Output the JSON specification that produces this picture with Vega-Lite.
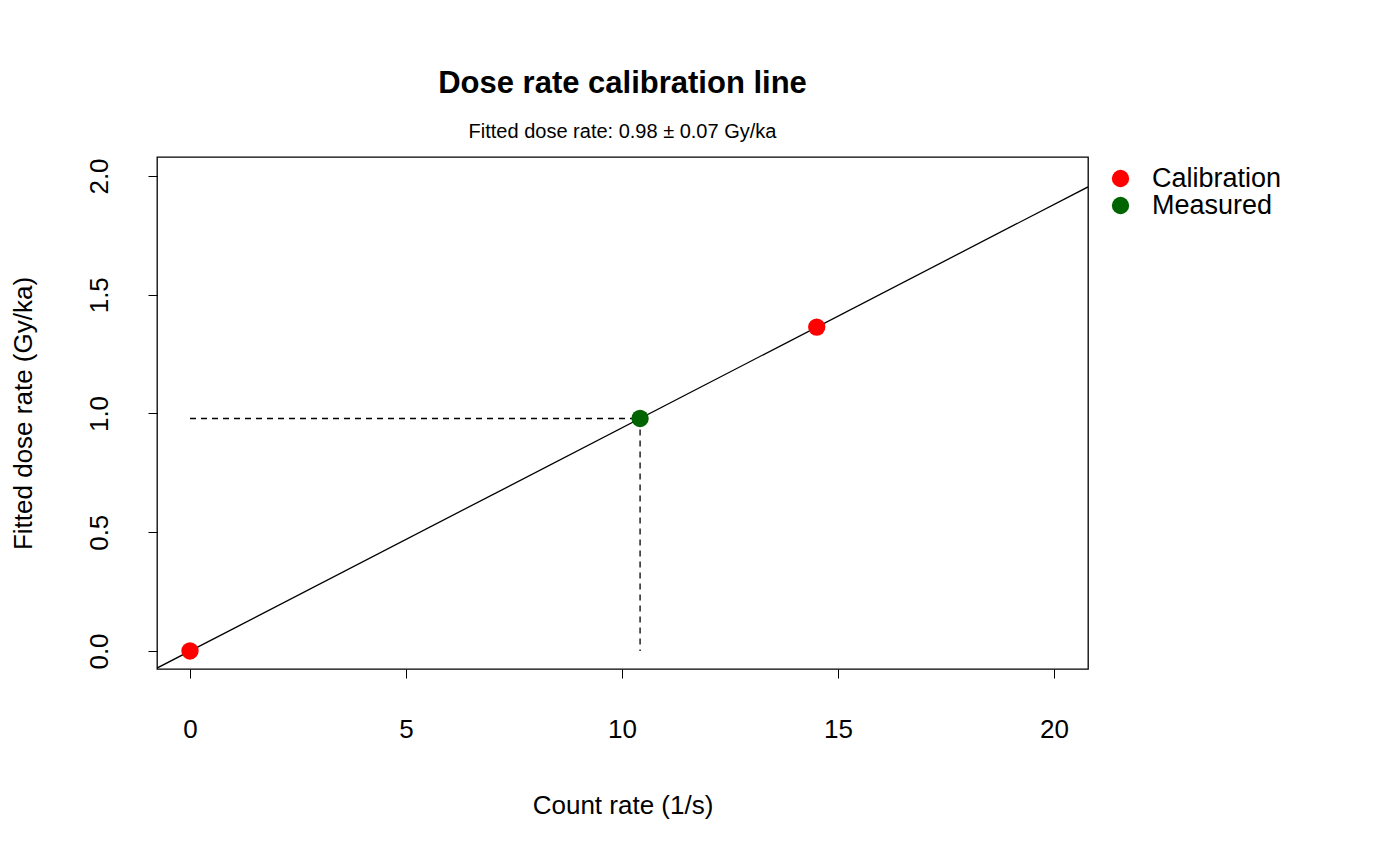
{
  "$schema": "https://vega.github.io/schema/vega-lite/v6.json",
  "autosize": "none",
  "width": 931,
  "height": 512,
  "padding": {"left": 157, "top": 157, "right": 312, "bottom": 197},
  "background": "white",
  "title": {
    "text": "Dose rate calibration line",
    "subtitle": "Fitted dose rate: 0.98 ± 0.07 Gy/ka",
    "font": "Liberation Sans",
    "fontSize": 31,
    "fontWeight": "bold",
    "subtitleFont": "Liberation Sans",
    "subtitleFontSize": 20,
    "subtitlePadding": 22,
    "offset": 14,
    "anchor": "middle",
    "color": "black",
    "subtitleColor": "black"
  },
  "config": {
    "view": {"stroke": "black", "strokeWidth": 1.3},
    "axis": {
      "domain": false,
      "grid": false,
      "tickColor": "black",
      "tickSize": 9,
      "labelFont": "Liberation Sans",
      "labelFontSize": 26,
      "labelColor": "black",
      "titleFont": "Liberation Sans",
      "titleFontSize": 26,
      "titleFontWeight": "normal",
      "titleColor": "black"
    }
  },
  "datasets": {
    "pts": [
      {"x": 0, "y": 0, "series": "Calibration"},
      {"x": 14.51, "y": 1.364, "series": "Calibration"},
      {"x": 10.42, "y": 0.979, "series": "Measured"}
    ],
    "fit": [
      {"x": -0.764, "y": -0.072},
      {"x": 20.79, "y": 1.954}
    ],
    "hdash": [
      {"x": 0, "y": 0.979},
      {"x": 10.42, "y": 0.979}
    ],
    "vdash": [
      {"x": 10.42, "y": 0.979},
      {"x": 10.42, "y": 0}
    ]
  },
  "layer": [
    {
      "data": {"name": "fit"},
      "mark": {"type": "line", "color": "black", "strokeWidth": 1.3, "clip": true},
      "encoding": {
        "x": {"field": "x", "type": "quantitative", "scale": {"domain": [-0.764, 20.79], "nice": false, "zero": false},
          "axis": {"values": [0, 5, 10, 15, 20], "title": "Count rate (1/s)", "labelPadding": 38, "titlePadding": 50}},
        "y": {"field": "y", "type": "quantitative", "scale": {"domain": [-0.0758, 2.08], "nice": false, "zero": false},
          "axis": {"values": [0, 0.5, 1, 1.5, 2], "format": ".1f", "title": "Fitted dose rate (Gy/ka)", "labelAngle": 270, "labelAlign": "center", "labelBaseline": "bottom", "labelPadding": 36, "titlePadding": 50}}
      }
    },
    {
      "data": {"name": "hdash"},
      "mark": {"type": "line", "color": "black", "strokeWidth": 1.3, "strokeDash": [6, 5]},
      "encoding": {"x": {"field": "x", "type": "quantitative"}, "y": {"field": "y", "type": "quantitative"}}
    },
    {
      "data": {"name": "vdash"},
      "mark": {"type": "line", "color": "black", "strokeWidth": 1.3, "strokeDash": [6, 5]},
      "encoding": {"x": {"field": "x", "type": "quantitative"}, "y": {"field": "y", "type": "quantitative"}}
    },
    {
      "data": {"name": "pts"},
      "mark": {"type": "point", "filled": true, "opacity": 1, "size": 300},
      "encoding": {
        "x": {"field": "x", "type": "quantitative"},
        "y": {"field": "y", "type": "quantitative"},
        "color": {
          "field": "series", "type": "nominal",
          "scale": {"domain": ["Calibration", "Measured"], "range": ["#ff0000", "#006400"]},
          "legend": {
            "orient": "none", "legendX": 950, "legendY": 8, "title": null,
            "labelFont": "Liberation Sans", "labelFontSize": 27, "labelColor": "black",
            "symbolSize": 300, "symbolOpacity": 1, "rowPadding": -12, "labelOffset": 18
          }
        }
      }
    }
  ]
}
